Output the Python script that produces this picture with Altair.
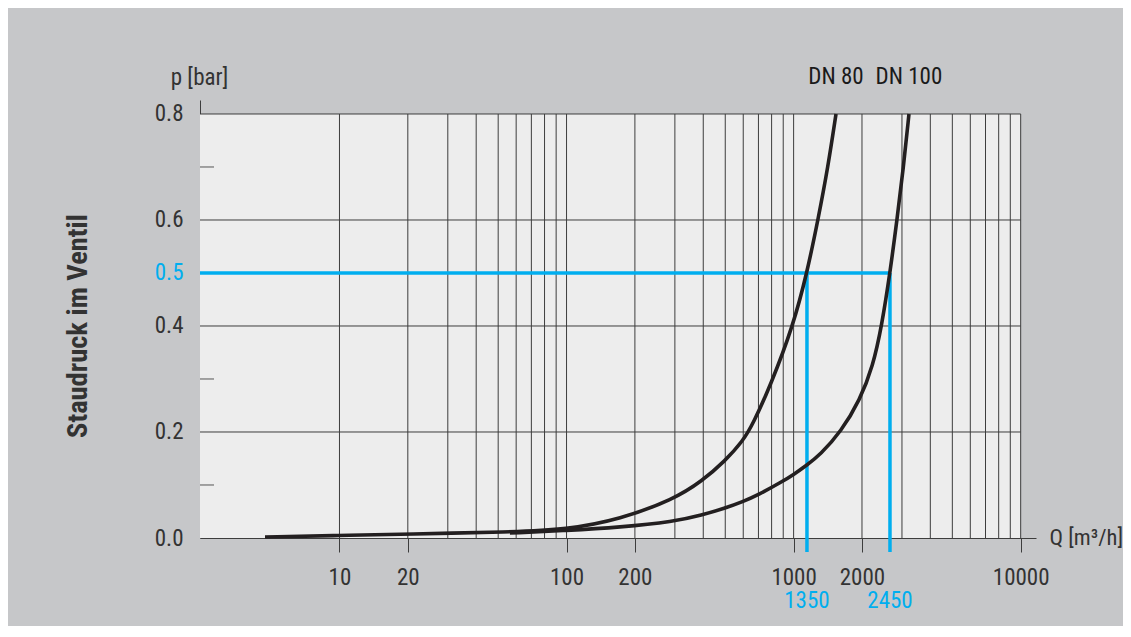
import altair as alt
import pandas as pd

# ---------------- data ----------------
dn80_q = [4.7, 10, 20, 56.3, 100, 172, 297, 395, 498, 598, 662, 795, 994, 1145, 1280, 1417, 1537]
dn80_p = [0.002, 0.0047, 0.0075, 0.0113, 0.016, 0.0353, 0.073, 0.1075, 0.145, 0.183,
          0.215, 0.29, 0.40, 0.50, 0.60, 0.70, 0.80]

dn100_q = [56.3, 100, 172, 297, 395, 498, 598, 697, 889, 994, 1145, 1306, 1617, 1960,
           2236, 2443, 2657, 2852, 3047, 3221]
dn100_p = [0.0094, 0.0142, 0.0202, 0.0308, 0.0434, 0.056, 0.0685, 0.0811, 0.1062, 0.1189,
           0.1377, 0.1566, 0.2006, 0.2604, 0.3245, 0.40, 0.50, 0.60, 0.70, 0.80]

series_names = ["DN 80", "DN 100"]

grid_q = [10, 20, 30, 40, 50, 60, 70, 80, 90,
          100, 200, 300, 400, 500, 600, 700, 800, 900,
          1000, 2000, 3000, 4000, 5000, 6000, 7000, 8000, 9000, 10000]
grid_p = [0.2, 0.4, 0.6, 0.8]
minor_p = [0.1, 0.3, 0.7]

x_tick_values = [10, 20, 100, 200, 1000, 2000, 10000]
y_tick_values = [0.0, 0.2, 0.4, 0.5, 0.6, 0.8]

marker_p = 0.5
marker_q = [1145, 2657]
marker_labels = ["1350", "2450"]

q_axis_domain = [2.431, 11680]
p_axis_domain = [0, 0.8264]
q_frame = [2.431, 10000]
p_frame = [0.0, 0.8]

# ---------------- styling ----------------
FONT = "Liberation Sans Narrow, Arial Narrow, Roboto Condensed, DejaVu Sans Condensed, sans-serif"
BG = "#c6c7c9"
PLOT_BG = "#ededed"
GRID = "#3d3d3d"
TXT = "#333333"
BLUE = "#00aeef"
CURVE = "#231f20"
W, H = 836, 438

xs = alt.Scale(type="log", domain=q_axis_domain, nice=False)
ys = alt.Scale(domain=p_axis_domain, nice=False, zero=False)

X_AX = alt.Axis(values=x_tick_values, format="d", grid=False,
                tickSize=14, tickColor=GRID, tickWidth=1,
                domainColor=GRID, domainWidth=1,
                labelFont=FONT, labelFontSize=23, labelColor=TXT,
                labelPadding=14, labelFlush=False, labelOverlap=False,
                title="Q [m³/h]", titleFont=FONT, titleFontSize=22.5,
                titleFontWeight="normal", titleColor=TXT,
                titleAnchor="start", titleAlign="left", titleBaseline="alphabetic",
                titleX=849, titleY=6)

Y_AX = alt.Axis(values=y_tick_values, format=".1f", grid=False,
                ticks=False, tickSize=0,
                domainColor=GRID, domainWidth=1,
                labelFont=FONT, labelFontSize=23,
                labelColor={"condition": {"test": "datum.value == 0.5", "value": BLUE},
                            "value": TXT},
                labelPadding=17, labelFlush=False, labelOverlap=False,
                title="p [bar]", titleFont=FONT, titleFontSize=23,
                titleFontWeight="normal", titleColor=TXT, titleAngle=0,
                titleAlign="center", titleBaseline="alphabetic",
                titleX=-1, titleY=-16)


def X(field):
    return alt.X(field, scale=xs, axis=X_AX)


def Y(field):
    return alt.Y(field, scale=ys, axis=Y_AX)


# ---------------- tables ----------------
curves = pd.DataFrame(
    {"q": dn80_q + dn100_q,
     "p": dn80_p + dn100_p,
     "series": [series_names[0]] * len(dn80_q) + [series_names[1]] * len(dn100_q),
     "order": list(range(len(dn80_q))) + list(range(len(dn100_q)))}
)
curve_labels = pd.DataFrame(
    {"q": [dn80_q[-1], dn100_q[-1]], "p": [dn80_p[-1], dn100_p[-1]], "label": series_names}
)
frame = pd.DataFrame({"q": [q_frame[0]], "q1": [q_frame[1]], "p": [p_frame[0]], "p1": [p_frame[1]]})
vgrid = pd.DataFrame({"q": grid_q, "p": p_frame[0], "p1": p_frame[1]})
hgrid = pd.DataFrame({"p": grid_p, "q": q_frame[0], "q1": q_frame[1]})
minor = pd.DataFrame({"p": minor_p})
blue_h = pd.DataFrame({"q": [q_frame[0]], "q1": [marker_q[-1]], "p": [marker_p]})
blue_v = pd.DataFrame({"q": marker_q, "p": marker_p, "p0": 0.0, "label": marker_labels})

# ---------------- layers ----------------
bg = alt.Chart(frame).mark_rect(color=PLOT_BG).encode(
    x=X("q:Q"), x2="q1:Q", y=Y("p:Q"), y2="p1:Q",
)

vg = alt.Chart(vgrid).mark_rule(color=GRID, strokeWidth=1).encode(
    x=X("q:Q"), y=Y("p:Q"), y2="p1:Q",
)

hg = alt.Chart(hgrid).mark_rule(color=GRID, strokeWidth=1).encode(
    x=X("q:Q"), x2="q1:Q", y=Y("p:Q"),
)

mn = alt.Chart(minor).mark_rule(color="#555555", strokeWidth=1).encode(
    x=alt.value(0), x2=alt.value(14), y=Y("p:Q"),
)

bh = alt.Chart(blue_h).mark_rule(color=BLUE, strokeWidth=3.5).encode(
    x=X("q:Q"), x2="q1:Q", y=Y("p:Q"),
)

bv = alt.Chart(blue_v).mark_rule(color=BLUE, strokeWidth=3.5).encode(
    x=X("q:Q"), y=Y("p:Q"), y2=alt.value(H + 14),
)

bl = alt.Chart(blue_v).mark_text(color=BLUE, font=FONT, fontSize=23, baseline="alphabetic",
                                 align="center", dy=70).encode(
    x=X("q:Q"), y=Y("p0:Q"), text="label:N",
)

ln = alt.Chart(curves).mark_line(color=CURVE, strokeWidth=3.6, interpolate="basis").encode(
    x=X("q:Q"), y=Y("p:Q"), detail="series:N", order="order:Q",
)

cl = alt.Chart(curve_labels).mark_text(color="#1a1a1a", font=FONT, fontSize=23,
                                       baseline="alphabetic", align="center", dy=-30).encode(
    x=X("q:Q"), y=Y("p:Q"), text="label:N",
)

chart = alt.layer(bg, vg, hg, mn, bh, bv, ln, bl, cl).properties(
    width=W, height=H,
    background=BG,
    autosize=alt.AutoSizeParams(type="none"),
    padding={"left": 192, "top": 92, "right": 87, "bottom": 88},
    title=alt.TitleParams(text="Staudruck im Ventil", orient="left", anchor="middle",
                          fontSize=28.5, fontWeight="bold", font=FONT, color=TXT,
                          offset=62, dx=-7),
).configure_view(stroke="transparent", fill="transparent")

chart.save("out.html", embed_options={"renderer": "svg", "actions": False})
